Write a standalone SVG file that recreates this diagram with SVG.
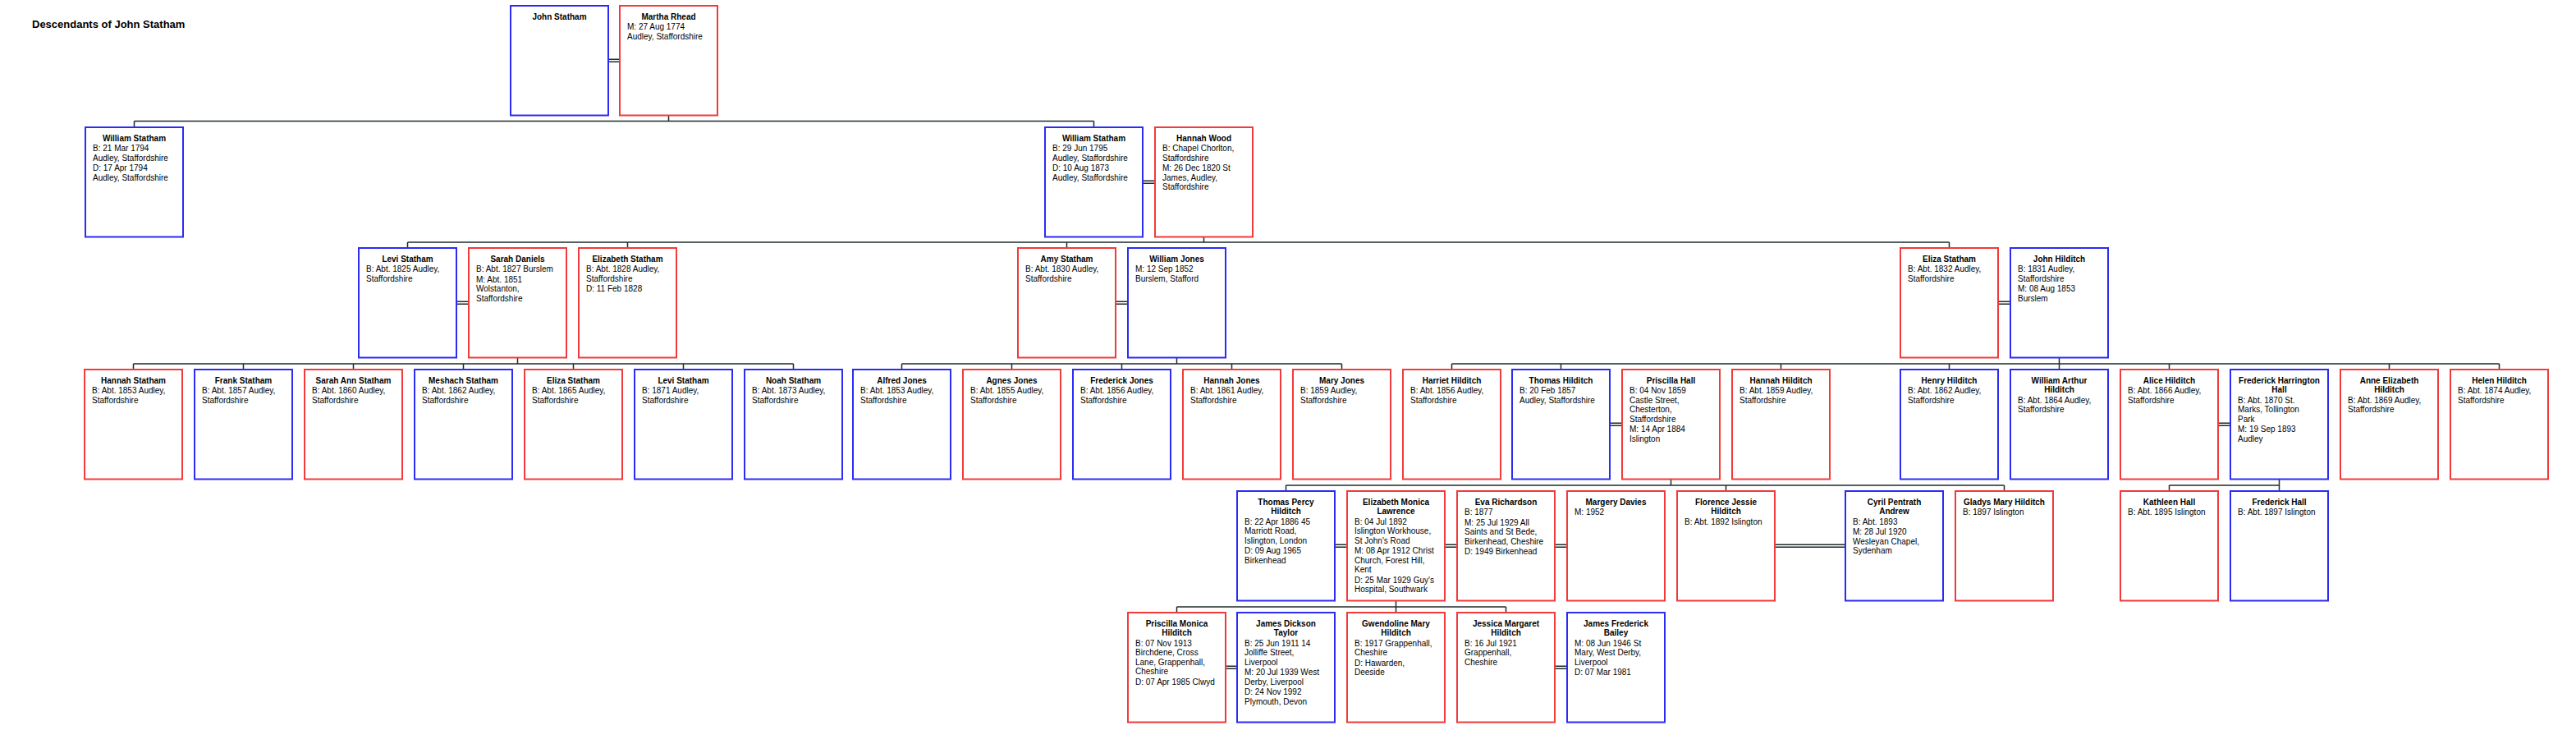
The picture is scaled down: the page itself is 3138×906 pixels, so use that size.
<svg xmlns="http://www.w3.org/2000/svg" width="3138" height="906" viewBox="0 0 3138 906">
<style>
.m{fill:#fff;stroke:#2b2bf5;stroke-width:2}
.f{fill:#fff;stroke:#f23a3a;stroke-width:2}
.nm{font-family:"Liberation Sans",Arial,sans-serif;font-size:10px;font-weight:bold;text-anchor:middle;fill:#000}
.tx{font-family:"Liberation Sans",Arial,sans-serif;font-size:10px;fill:#000}
.title{font-family:"Liberation Sans",Arial,sans-serif;font-size:13px;font-weight:bold;fill:#000}
.c{fill:none;stroke:#1e2b2b;stroke-width:1.5}
</style>
<rect width="3138" height="906" fill="#fff"/>
<text class="title" x="39" y="34">Descendants of John Statham</text>

<g id="connectors" class="c">
<!-- marriages -->
<path d="M741,72.25H755M741,75.25H755"/>
<path d="M1392,220.25H1407M1392,223.25H1407"/>
<path d="M556,367.25H571M556,370.25H571"/>
<path d="M1359,367.25H1374M1359,370.25H1374"/>
<path d="M2434,367.25H2449M2434,370.25H2449"/>
<path d="M1961,515.25H1976M1961,518.25H1976"/>
<path d="M2702,515.25H2717M2702,518.25H2717"/>
<path d="M1626,663.25H1641M1626,666.25H1641"/>
<path d="M1760,663.25H1775M1760,666.25H1775"/>
<path d="M1894,663.25H1909M1894,666.25H1909"/>
<path d="M2162,663.25H2248M2162,666.25H2248"/>
<path d="M1493,811.25H1507M1493,814.25H1507"/>
<path d="M1894,811.25H1909M1894,814.25H1909"/>
<!-- descent: John/Martha -->
<path d="M814.5,140.5V147.5M163.5,147.5H1332.5M163.5,147.5V155M1332.5,147.5V155"/>
<!-- William/Hannah Wood -->
<path d="M1466.5,288.5V295M496.5,295H2374.5M496.5,295V302M764.5,295V302M1299.5,295V302M2374.5,295V302"/>
<!-- Levi/Sarah Daniels -->
<path d="M630.5,435.5V443M162.5,443H966.5M162.5,443V450M296.5,443V450M430.5,443V450M564.5,443V450M698.5,443V450M832.5,443V450M966.5,443V450"/>
<!-- Amy/William Jones -->
<path d="M1433.5,435.5V443M1098.5,443H1634.5M1098.5,443V450M1232.5,443V450M1366.5,443V450M1500.5,443V450M1634.5,443V450"/>
<!-- Eliza/John Hilditch -->
<path d="M2508.5,435.5V450M1768.5,443H3044.5M1768.5,443V450M1901.5,443V450M2169.5,443V450M2374.5,443V450M2642.5,443V450M2910.5,443V450M3044.5,443V450"/>
<!-- Thomas/Priscilla -->
<path d="M2035.5,583.5V591M1566.5,591H2441.5M1566.5,591V598M2102.5,591V598M2441.5,591V598"/>
<!-- Alice/Frederick Harrington Hall -->
<path d="M2776.5,583.5V598M2642.5,591H2776.5M2642.5,591V598"/>
<!-- Thomas Percy/Elizabeth Monica -->
<path d="M1700.5,731.5V746M1433.5,739H1834.5M1433.5,739V746M1834.5,739V746"/>
</g>

<!-- Row 1 -->
<g id="john-statham" transform="translate(622,7)"><rect class="m" width="119" height="133.5"/><text class="nm" x="59.5" y="16.5">John Statham</text></g>
<g id="martha-rhead" transform="translate(755,7)"><rect class="f" width="119" height="133.5"/><text class="nm" x="59.5" y="16.5">Martha Rhead</text><text class="tx" x="9" y="29">M: 27 Aug 1774</text><text class="tx" x="9" y="40.5">Audley, Staffordshire</text></g>

<!-- Row 2 -->
<g id="william-statham-1794" transform="translate(104,155)"><rect class="m" width="119" height="133.5"/><text class="nm" x="59.5" y="16.5">William Statham</text><text class="tx" x="9" y="29">B: 21 Mar 1794</text><text class="tx" x="9" y="40.5">Audley, Staffordshire</text><text class="tx" x="9" y="53">D: 17 Apr 1794</text><text class="tx" x="9" y="64.5">Audley, Staffordshire</text></g>
<g id="william-statham-1795" transform="translate(1273,155)"><rect class="m" width="119" height="133.5"/><text class="nm" x="59.5" y="16.5">William Statham</text><text class="tx" x="9" y="29">B: 29 Jun 1795</text><text class="tx" x="9" y="40.5">Audley, Staffordshire</text><text class="tx" x="9" y="53">D: 10 Aug 1873</text><text class="tx" x="9" y="64.5">Audley, Staffordshire</text></g>
<g id="hannah-wood" transform="translate(1407,155)"><rect class="f" width="119" height="133.5"/><text class="nm" x="59.5" y="16.5">Hannah Wood</text><text class="tx" x="9" y="29">B: Chapel Chorlton,</text><text class="tx" x="9" y="40.5">Staffordshire</text><text class="tx" x="9" y="53">M: 26 Dec 1820 St</text><text class="tx" x="9" y="64.5">James, Audley,</text><text class="tx" x="9" y="76">Staffordshire</text></g>

<!-- Row 3 -->
<g id="levi-statham-1825" transform="translate(437,302)"><rect class="m" width="119" height="133.5"/><text class="nm" x="59.5" y="16.5">Levi Statham</text><text class="tx" x="9" y="29">B: Abt. 1825 Audley,</text><text class="tx" x="9" y="40.5">Staffordshire</text></g>
<g id="sarah-daniels" transform="translate(571,302)"><rect class="f" width="119" height="133.5"/><text class="nm" x="59.5" y="16.5">Sarah Daniels</text><text class="tx" x="9" y="29">B: Abt. 1827 Burslem</text><text class="tx" x="9" y="41.5">M: Abt. 1851</text><text class="tx" x="9" y="53">Wolstanton,</text><text class="tx" x="9" y="64.5">Staffordshire</text></g>
<g id="elizabeth-statham" transform="translate(705,302)"><rect class="f" width="119" height="133.5"/><text class="nm" x="59.5" y="16.5">Elizabeth Statham</text><text class="tx" x="9" y="29">B: Abt. 1828 Audley,</text><text class="tx" x="9" y="40.5">Staffordshire</text><text class="tx" x="9" y="53">D: 11 Feb 1828</text></g>
<g id="amy-statham" transform="translate(1240,302)"><rect class="f" width="119" height="133.5"/><text class="nm" x="59.5" y="16.5">Amy Statham</text><text class="tx" x="9" y="29">B: Abt. 1830 Audley,</text><text class="tx" x="9" y="40.5">Staffordshire</text></g>
<g id="william-jones" transform="translate(1374,302)"><rect class="m" width="119" height="133.5"/><text class="nm" x="59.5" y="16.5">William Jones</text><text class="tx" x="9" y="29">M: 12 Sep 1852</text><text class="tx" x="9" y="40.5">Burslem, Stafford</text></g>
<g id="eliza-statham-1832" transform="translate(2315,302)"><rect class="f" width="119" height="133.5"/><text class="nm" x="59.5" y="16.5">Eliza Statham</text><text class="tx" x="9" y="29">B: Abt. 1832 Audley,</text><text class="tx" x="9" y="40.5">Staffordshire</text></g>
<g id="john-hilditch" transform="translate(2449,302)"><rect class="m" width="119" height="133.5"/><text class="nm" x="59.5" y="16.5">John Hilditch</text><text class="tx" x="9" y="29">B: 1831 Audley,</text><text class="tx" x="9" y="40.5">Staffordshire</text><text class="tx" x="9" y="53">M: 08 Aug 1853</text><text class="tx" x="9" y="64.5">Burslem</text></g>

<!-- Row 4 -->
<g id="hannah-statham" transform="translate(103,450)"><rect class="f" width="119" height="133.5"/><text class="nm" x="59.5" y="16.5">Hannah Statham</text><text class="tx" x="9" y="29">B: Abt. 1853 Audley,</text><text class="tx" x="9" y="40.5">Staffordshire</text></g>
<g id="frank-statham" transform="translate(237,450)"><rect class="m" width="119" height="133.5"/><text class="nm" x="59.5" y="16.5">Frank Statham</text><text class="tx" x="9" y="29">B: Abt. 1857 Audley,</text><text class="tx" x="9" y="40.5">Staffordshire</text></g>
<g id="sarah-ann-statham" transform="translate(371,450)"><rect class="f" width="119" height="133.5"/><text class="nm" x="59.5" y="16.5">Sarah Ann Statham</text><text class="tx" x="9" y="29">B: Abt. 1860 Audley,</text><text class="tx" x="9" y="40.5">Staffordshire</text></g>
<g id="meshach-statham" transform="translate(505,450)"><rect class="m" width="119" height="133.5"/><text class="nm" x="59.5" y="16.5">Meshach Statham</text><text class="tx" x="9" y="29">B: Abt. 1862 Audley,</text><text class="tx" x="9" y="40.5">Staffordshire</text></g>
<g id="eliza-statham-1865" transform="translate(639,450)"><rect class="f" width="119" height="133.5"/><text class="nm" x="59.5" y="16.5">Eliza Statham</text><text class="tx" x="9" y="29">B: Abt. 1865 Audley,</text><text class="tx" x="9" y="40.5">Staffordshire</text></g>
<g id="levi-statham-1871" transform="translate(773,450)"><rect class="m" width="119" height="133.5"/><text class="nm" x="59.5" y="16.5">Levi Statham</text><text class="tx" x="9" y="29">B: 1871 Audley,</text><text class="tx" x="9" y="40.5">Staffordshire</text></g>
<g id="noah-statham" transform="translate(907,450)"><rect class="m" width="119" height="133.5"/><text class="nm" x="59.5" y="16.5">Noah Statham</text><text class="tx" x="9" y="29">B: Abt. 1873 Audley,</text><text class="tx" x="9" y="40.5">Staffordshire</text></g>
<g id="alfred-jones" transform="translate(1039,450)"><rect class="m" width="119" height="133.5"/><text class="nm" x="59.5" y="16.5">Alfred Jones</text><text class="tx" x="9" y="29">B: Abt. 1853 Audley,</text><text class="tx" x="9" y="40.5">Staffordshire</text></g>
<g id="agnes-jones" transform="translate(1173,450)"><rect class="f" width="119" height="133.5"/><text class="nm" x="59.5" y="16.5">Agnes Jones</text><text class="tx" x="9" y="29">B: Abt. 1855 Audley,</text><text class="tx" x="9" y="40.5">Staffordshire</text></g>
<g id="frederick-jones" transform="translate(1307,450)"><rect class="m" width="119" height="133.5"/><text class="nm" x="59.5" y="16.5">Frederick Jones</text><text class="tx" x="9" y="29">B: Abt. 1856 Audley,</text><text class="tx" x="9" y="40.5">Staffordshire</text></g>
<g id="hannah-jones" transform="translate(1441,450)"><rect class="f" width="119" height="133.5"/><text class="nm" x="59.5" y="16.5">Hannah Jones</text><text class="tx" x="9" y="29">B: Abt. 1861 Audley,</text><text class="tx" x="9" y="40.5">Staffordshire</text></g>
<g id="mary-jones" transform="translate(1575,450)"><rect class="f" width="119" height="133.5"/><text class="nm" x="59.5" y="16.5">Mary Jones</text><text class="tx" x="9" y="29">B: 1859 Audley,</text><text class="tx" x="9" y="40.5">Staffordshire</text></g>
<g id="harriet-hilditch" transform="translate(1709,450)"><rect class="f" width="119" height="133.5"/><text class="nm" x="59.5" y="16.5">Harriet Hilditch</text><text class="tx" x="9" y="29">B: Abt. 1856 Audley,</text><text class="tx" x="9" y="40.5">Staffordshire</text></g>
<g id="thomas-hilditch" transform="translate(1842,450)"><rect class="m" width="119" height="133.5"/><text class="nm" x="59.5" y="16.5">Thomas Hilditch</text><text class="tx" x="9" y="29">B: 20 Feb 1857</text><text class="tx" x="9" y="40.5">Audley, Staffordshire</text></g>
<g id="priscilla-hall" transform="translate(1976,450)"><rect class="f" width="119" height="133.5"/><text class="nm" x="59.5" y="16.5">Priscilla Hall</text><text class="tx" x="9" y="29">B: 04 Nov 1859</text><text class="tx" x="9" y="40.5">Castle Street,</text><text class="tx" x="9" y="52">Chesterton,</text><text class="tx" x="9" y="63.5">Staffordshire</text><text class="tx" x="9" y="76">M: 14 Apr 1884</text><text class="tx" x="9" y="87.5">Islington</text></g>
<g id="hannah-hilditch" transform="translate(2110,450)"><rect class="f" width="119" height="133.5"/><text class="nm" x="59.5" y="16.5">Hannah Hilditch</text><text class="tx" x="9" y="29">B: Abt. 1859 Audley,</text><text class="tx" x="9" y="40.5">Staffordshire</text></g>
<g id="henry-hilditch" transform="translate(2315,450)"><rect class="m" width="119" height="133.5"/><text class="nm" x="59.5" y="16.5">Henry Hilditch</text><text class="tx" x="9" y="29">B: Abt. 1862 Audley,</text><text class="tx" x="9" y="40.5">Staffordshire</text></g>
<g id="william-arthur-hilditch" transform="translate(2449,450)"><rect class="m" width="119" height="133.5"/><text class="nm" x="59.5" y="16.5">William Arthur</text><text class="nm" x="59.5" y="28">Hilditch</text><text class="tx" x="9" y="40.5">B: Abt. 1864 Audley,</text><text class="tx" x="9" y="52">Staffordshire</text></g>
<g id="alice-hilditch" transform="translate(2583,450)"><rect class="f" width="119" height="133.5"/><text class="nm" x="59.5" y="16.5">Alice Hilditch</text><text class="tx" x="9" y="29">B: Abt. 1866 Audley,</text><text class="tx" x="9" y="40.5">Staffordshire</text></g>
<g id="frederick-harrington-hall" transform="translate(2717,450)"><rect class="m" width="119" height="133.5"/><text class="nm" x="59.5" y="16.5">Frederick Harrington</text><text class="nm" x="59.5" y="28">Hall</text><text class="tx" x="9" y="40.5">B: Abt. 1870 St.</text><text class="tx" x="9" y="52">Marks, Tollington</text><text class="tx" x="9" y="63.5">Park</text><text class="tx" x="9" y="76">M: 19 Sep 1893</text><text class="tx" x="9" y="87.5">Audley</text></g>
<g id="anne-elizabeth-hilditch" transform="translate(2851,450)"><rect class="f" width="119" height="133.5"/><text class="nm" x="59.5" y="16.5">Anne Elizabeth</text><text class="nm" x="59.5" y="28">Hilditch</text><text class="tx" x="9" y="40.5">B: Abt. 1869 Audley,</text><text class="tx" x="9" y="52">Staffordshire</text></g>
<g id="helen-hilditch" transform="translate(2985,450)"><rect class="f" width="119" height="133.5"/><text class="nm" x="59.5" y="16.5">Helen Hilditch</text><text class="tx" x="9" y="29">B: Abt. 1874 Audley,</text><text class="tx" x="9" y="40.5">Staffordshire</text></g>

<!-- Row 5 -->
<g id="thomas-percy-hilditch" transform="translate(1507,598)"><rect class="m" width="119" height="133.5"/><text class="nm" x="59.5" y="16.5">Thomas Percy</text><text class="nm" x="59.5" y="28">Hilditch</text><text class="tx" x="9" y="40.5">B: 22 Apr 1886 45</text><text class="tx" x="9" y="52">Marriott Road,</text><text class="tx" x="9" y="63.5">Islington, London</text><text class="tx" x="9" y="76">D: 09 Aug 1965</text><text class="tx" x="9" y="87.5">Birkenhead</text></g>
<g id="elizabeth-monica-lawrence" transform="translate(1641,598)"><rect class="f" width="119" height="133.5"/><text class="nm" x="59.5" y="16.5">Elizabeth Monica</text><text class="nm" x="59.5" y="28">Lawrence</text><text class="tx" x="9" y="40.5">B: 04 Jul 1892</text><text class="tx" x="9" y="52">Islington Workhouse,</text><text class="tx" x="9" y="63.5">St John's Road</text><text class="tx" x="9" y="76">M: 08 Apr 1912 Christ</text><text class="tx" x="9" y="87.5">Church, Forest Hill,</text><text class="tx" x="9" y="99">Kent</text><text class="tx" x="9" y="111.5">D: 25 Mar 1929 Guy's</text><text class="tx" x="9" y="123">Hospital, Southwark</text></g>
<g id="eva-richardson" transform="translate(1775,598)"><rect class="f" width="119" height="133.5"/><text class="nm" x="59.5" y="16.5">Eva Richardson</text><text class="tx" x="9" y="29">B: 1877</text><text class="tx" x="9" y="41.5">M: 25 Jul 1929 All</text><text class="tx" x="9" y="53">Saints and St Bede,</text><text class="tx" x="9" y="64.5">Birkenhead, Cheshire</text><text class="tx" x="9" y="77">D: 1949 Birkenhead</text></g>
<g id="margery-davies" transform="translate(1909,598)"><rect class="f" width="119" height="133.5"/><text class="nm" x="59.5" y="16.5">Margery Davies</text><text class="tx" x="9" y="29">M: 1952</text></g>
<g id="florence-jessie-hilditch" transform="translate(2043,598)"><rect class="f" width="119" height="133.5"/><text class="nm" x="59.5" y="16.5">Florence Jessie</text><text class="nm" x="59.5" y="28">Hilditch</text><text class="tx" x="9" y="40.5">B: Abt. 1892 Islington</text></g>
<g id="cyril-pentrath-andrew" transform="translate(2248,598)"><rect class="m" width="119" height="133.5"/><text class="nm" x="59.5" y="16.5">Cyril Pentrath</text><text class="nm" x="59.5" y="28">Andrew</text><text class="tx" x="9" y="40.5">B: Abt. 1893</text><text class="tx" x="9" y="53">M: 28 Jul 1920</text><text class="tx" x="9" y="64.5">Wesleyan Chapel,</text><text class="tx" x="9" y="76">Sydenham</text></g>
<g id="gladys-mary-hilditch" transform="translate(2382,598)"><rect class="f" width="119" height="133.5"/><text class="nm" x="59.5" y="16.5">Gladys Mary Hilditch</text><text class="tx" x="9" y="29">B: 1897 Islington</text></g>
<g id="kathleen-hall" transform="translate(2583,598)"><rect class="f" width="119" height="133.5"/><text class="nm" x="59.5" y="16.5">Kathleen Hall</text><text class="tx" x="9" y="29">B: Abt. 1895 Islington</text></g>
<g id="frederick-hall" transform="translate(2717,598)"><rect class="m" width="119" height="133.5"/><text class="nm" x="59.5" y="16.5">Frederick Hall</text><text class="tx" x="9" y="29">B: Abt. 1897 Islington</text></g>

<!-- Row 6 -->
<g id="priscilla-monica-hilditch" transform="translate(1374,746)"><rect class="f" width="119" height="133.5"/><text class="nm" x="59.5" y="16.5">Priscilla Monica</text><text class="nm" x="59.5" y="28">Hilditch</text><text class="tx" x="9" y="40.5">B: 07 Nov 1913</text><text class="tx" x="9" y="52">Birchdene, Cross</text><text class="tx" x="9" y="63.5">Lane, Grappenhall,</text><text class="tx" x="9" y="75">Cheshire</text><text class="tx" x="9" y="87.5">D: 07 Apr 1985 Clwyd</text></g>
<g id="james-dickson-taylor" transform="translate(1507,746)"><rect class="m" width="119" height="133.5"/><text class="nm" x="59.5" y="16.5">James Dickson</text><text class="nm" x="59.5" y="28">Taylor</text><text class="tx" x="9" y="40.5">B: 25 Jun 1911 14</text><text class="tx" x="9" y="52">Jolliffe Street,</text><text class="tx" x="9" y="63.5">Liverpool</text><text class="tx" x="9" y="76">M: 20 Jul 1939 West</text><text class="tx" x="9" y="87.5">Derby, Liverpool</text><text class="tx" x="9" y="100">D: 24 Nov 1992</text><text class="tx" x="9" y="111.5">Plymouth, Devon</text></g>
<g id="gwendoline-mary-hilditch" transform="translate(1641,746)"><rect class="f" width="119" height="133.5"/><text class="nm" x="59.5" y="16.5">Gwendoline Mary</text><text class="nm" x="59.5" y="28">Hilditch</text><text class="tx" x="9" y="40.5">B: 1917 Grappenhall,</text><text class="tx" x="9" y="52">Cheshire</text><text class="tx" x="9" y="64.5">D: Hawarden,</text><text class="tx" x="9" y="76">Deeside</text></g>
<g id="jessica-margaret-hilditch" transform="translate(1775,746)"><rect class="f" width="119" height="133.5"/><text class="nm" x="59.5" y="16.5">Jessica Margaret</text><text class="nm" x="59.5" y="28">Hilditch</text><text class="tx" x="9" y="40.5">B: 16 Jul 1921</text><text class="tx" x="9" y="52">Grappenhall,</text><text class="tx" x="9" y="63.5">Cheshire</text></g>
<g id="james-frederick-bailey" transform="translate(1909,746)"><rect class="m" width="119" height="133.5"/><text class="nm" x="59.5" y="16.5">James Frederick</text><text class="nm" x="59.5" y="28">Bailey</text><text class="tx" x="9" y="40.5">M: 08 Jun 1946 St</text><text class="tx" x="9" y="52">Mary, West Derby,</text><text class="tx" x="9" y="63.5">Liverpool</text><text class="tx" x="9" y="76">D: 07 Mar 1981</text></g>
</svg>
